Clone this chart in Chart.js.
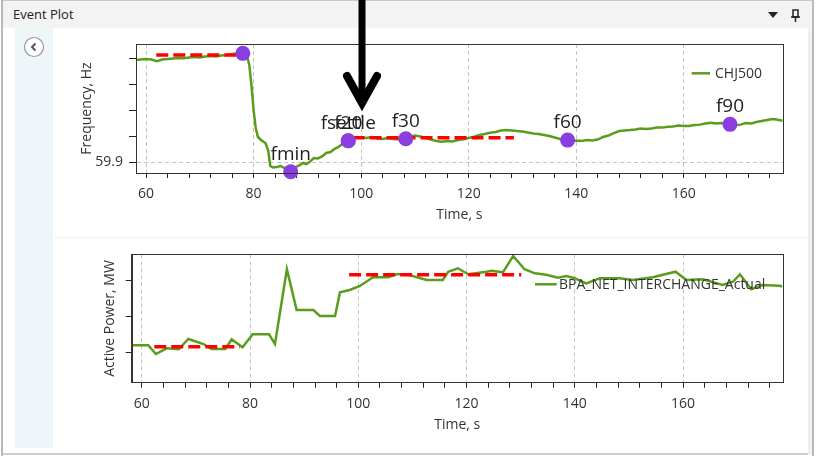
<!DOCTYPE html>
<html>
<head>
<meta charset="utf-8">
<title>Event Plot</title>
<script src="https://cdn.jsdelivr.net/npm/chart.js@4.4.0/dist/chart.umd.min.js"></script>
<style>
  body { margin: 0; width: 817px; height: 461px; background: #fff; position: relative; overflow: hidden; font-family: "Open Sans", sans-serif; }
  .abs { position: absolute; }
  #leftEdge { left: 1px; top: 0; width: 2px; height: 456px; background: #b9b9b9; }
  #rightEdge { left: 812px; top: 0; width: 2px; height: 456px; background: #b9b9b9; }
  #titleBar { left: 3px; top: 0; width: 809px; height: 28px; background: #f3f3f3; border-top: 1px solid #c8c8c8; box-sizing: border-box; }
  #titleText { left: 13px; top: 5px; font-size: 13px; color: #222; }
  #panel { left: 3px; top: 28px; width: 805px; height: 425px; background: #fff; border-bottom: 2px solid #cfcfcf; }
  #rightBand { left: 808px; top: 28px; width: 4px; height: 427px; background: #f0f0f0; }
  #sideStrip { left: 15px; top: 28px; width: 38px; height: 420px; background: #eef6fa; }
  #sep { left: 54px; top: 237px; width: 753px; height: 1px; background: #f0f0f0; }
  canvas { position: absolute; }
  #freqPlot { left: 54px; top: 28px; }
  #powerPlot { left: 54px; top: 238px; }
  #overlay { left: 0; top: 0; }
</style>
</head>
<body>
<div class="abs" id="leftEdge"></div>
<div class="abs" id="rightEdge"></div>
<div class="abs" id="titleBar"></div>
<div class="abs" id="titleText">Event Plot</div>
<div class="abs" id="panel"></div>
<div class="abs" id="rightBand"></div>
<div class="abs" id="sideStrip"></div>
<div class="abs" id="sep"></div>
<canvas id="freqPlot" width="753" height="209"></canvas>
<canvas id="powerPlot" width="753" height="217"></canvas>
<svg class="abs" id="overlay" width="817" height="461">
  <!-- collapse button -->
  <circle cx="34" cy="47" r="9.5" fill="#fff" stroke="#9a9a9a" stroke-width="1.2"/>
  <polyline points="35.5,43.5 32,47 35.5,50.5" fill="none" stroke="#555" stroke-width="2"/>
  <!-- title bar icons -->
  <polygon points="768,12 778,12 773,18" fill="#222"/>
  <rect x="793" y="10" width="5" height="7" fill="none" stroke="#222" stroke-width="1.5"/>
  <line x1="791" y1="17" x2="800" y2="17" stroke="#222" stroke-width="1.5"/>
  <line x1="795.5" y1="17" x2="795.5" y2="22" stroke="#222" stroke-width="1.5"/>
  <!-- big arrow -->
  <line x1="362" y1="0" x2="362" y2="100" stroke="#000" stroke-width="7"/>
  <polyline points="347,76 362,103 377,76" fill="none" stroke="#000" stroke-width="8" stroke-linecap="round" stroke-linejoin="miter"/>
</svg>

<script>
// ---- frequency (top plot) ----
const freqTime = [58.1, 59, 60, 61, 62, 63, 64, 65, 66, 67, 68, 69, 70, 71, 72, 73, 74, 75, 76, 77, 78, 78.7,
  79.2, 79.6, 80.0, 80.4, 80.8, 81.5, 82.2, 82.7, 83.1, 83.6, 84.3, 85, 85.6, 86.3, 86.9, 87.5, 88, 88.6,
  89.2, 89.8, 90.4, 91.2, 92, 92.8, 93.5, 94.3, 95, 95.8, 96.6, 97.6, 98.4, 99.2, 100, 101, 102, 103, 104,
  105, 106, 107, 108.3, 109, 110, 111, 112, 113, 114, 115, 116, 117, 118, 119, 120, 121, 122, 123, 124,
  125, 126, 127, 128, 129, 130, 131, 132, 133, 134, 135, 136, 137, 138.4, 139, 140, 141, 142, 143, 144,
  145, 146, 147, 148, 149, 150, 151, 152, 153, 154, 155, 156, 157, 158, 159, 160, 161, 162, 163, 164,
  165, 166, 167, 168.6, 169.5, 170.6, 171.5, 172.5, 173.5, 174.5, 175.5, 176.5, 177.2, 178.4];
const freqValue = [59.9787, 59.979, 59.9794, 59.979, 59.9777, 59.979, 59.9794, 59.9798, 59.9802, 59.9801,
  59.9806, 59.981, 59.9807, 59.9813, 59.9817, 59.9814, 59.9821, 59.9825, 59.9833, 59.9837, 59.9838, 59.9833,
  59.9748, 59.9594, 59.9402, 59.9264, 59.9195, 59.9168, 59.9148, 59.9095, 59.8972, 59.896, 59.8964, 59.8972,
  59.896, 59.8948, 59.8946, 59.8956, 59.8968, 59.8979, 59.8995, 59.8987, 59.9002, 59.9033, 59.903, 59.9048,
  59.9072, 59.9079, 59.9102, 59.9118, 59.9145, 59.9166, 59.9191, 59.9195, 59.9191, 59.9187, 59.9195, 59.9183,
  59.9179, 59.9187, 59.9179, 59.9175, 59.9181, 59.9195, 59.9206, 59.9198, 59.9187, 59.9175, 59.9164, 59.9158,
  59.9164, 59.916, 59.9171, 59.9177, 59.9187, 59.9198, 59.921, 59.9218, 59.9228, 59.9233, 59.9245, 59.9248,
  59.9245, 59.9241, 59.9237, 59.923, 59.9222, 59.9218, 59.921, 59.9202, 59.9191, 59.9179, 59.9171, 59.9164,
  59.9168, 59.9164, 59.9171, 59.9168, 59.9175, 59.9195, 59.9206, 59.9225, 59.9241, 59.9245, 59.9248, 59.9252,
  59.926, 59.9256, 59.9261, 59.9268, 59.9267, 59.9274, 59.9275, 59.9283, 59.9279, 59.9279, 59.9287, 59.929,
  59.9298, 59.9305, 59.9298, 59.9302, 59.9292, 59.9287, 59.929, 59.9302, 59.9298, 59.931, 59.9318, 59.9325,
  59.9333, 59.9329, 59.932];

// event markers
const markerTime = [78.0, 86.9, 97.6, 97.6, 108.3, 138.4, 168.6];
const markerValue = [59.9838, 59.8928, 59.9166, 59.9166, 59.9181, 59.9171, 59.9292];
const markerLabel = ["", "fmin", "fsettle", "f20", "f30", "f60", "f90"];

// red dashed levels (pre-event and settling)
const freqPreTime = [61.9, 76.8];
const freqPreValue = [59.9825, 59.9825];
const freqPostTime = [98.4, 128.4];
const freqPostValue = [59.9189, 59.9189];

const freqTicks = [59.9, 59.92, 59.94, 59.96, 59.98];

// ---- active power (bottom plot) ----
const powerTime = [58.15, 61.2, 62.6, 64.6, 66.8, 68.6, 71.4, 72.9, 75.4, 76.6, 78.6, 80.5, 83.5, 84.6,
  86.8, 88.6, 91.7, 92.9, 95.7, 96.6, 98.4, 100.3, 102.7, 105.5, 107, 108.9, 112.6, 115.6, 116.6, 118.4,
  120.3, 123.7, 124.6, 126.7, 128.6, 130.7, 132.6, 134.7, 136.9, 138.4, 140, 142.1, 144.6, 148.2, 150.7,
  154.4, 158.6, 160.6, 163.6, 167.3, 169.2, 170.5, 172.6, 174.7, 177.8, 178.3];
const powerValue = [4109.3, 4109.3, 4097.2, 4105.1, 4103.8, 4118.1, 4111.1, 4104.2, 4104.2, 4117.6, 4106.5,
  4124.6, 4124.6, 4111.1, 4214.9, 4158.3, 4158.3, 4150, 4150, 4182.9, 4186.1, 4191.7, 4203.8, 4203.8,
  4207.9, 4207.9, 4200, 4200, 4211.5, 4216.3, 4207.9, 4211.5, 4212.9, 4210.7, 4233.3, 4214.9, 4209.3,
  4207.4, 4203.2, 4205.6, 4202.4, 4195.4, 4202.4, 4202.4, 4200, 4203.8, 4211.5, 4200, 4201, 4193.1,
  4197.6, 4207.9, 4187.1, 4193.1, 4192.1, 4191];
const powerPreTime = [62.3, 78.1];
const powerPreValue = [4107.4, 4107.4];
const powerPostTime = [98.3, 130.1];
const powerPostValue = [4207.4, 4207.4];
const powerTicks = [4100, 4150, 4200];

// time axis
const timeMajor = [60, 80, 100, 120, 140, 160];
const timeMinorStep = 4;

const lineGreen = "#5a9c1c";
const levelRed = "#ff0000";
const markerPurple = "#8b3ee0";
const fontFamily = "'Open Sans', sans-serif";

function xy(xs, ys) {
  return xs.map(function (x, i) { return { x: x, y: ys[i] }; });
}

function timeTicks() {
  let out = [];
  for (let t = 60; t <= 178; t += timeMinorStep) out.push(t);
  return out;
}

// box round the plot area
const plotFrame = {
  id: "plotFrame",
  afterDraw(chart) {
    const a = chart.chartArea, ctx = chart.ctx;
    ctx.save();
    ctx.strokeStyle = "#333";
    ctx.lineWidth = 1;
    ctx.strokeRect(Math.round(a.left) + 0.5, Math.round(a.top) + 0.5,
      Math.round(a.right - a.left), Math.round(a.bottom - a.top));
    ctx.restore();
  },
};

// labels above the event markers
const markerText = {
  id: "markerText",
  afterDatasetsDraw(chart) {
    const ctx = chart.ctx;
    chart.data.datasets.forEach(function (ds, i) {
      if (!ds.pointLabels) return;
      const meta = chart.getDatasetMeta(i);
      ctx.save();
      ctx.font = "19px " + fontFamily;
      ctx.fillStyle = "#222";
      ctx.textAlign = "center";
      ctx.textBaseline = "alphabetic";
      meta.data.forEach(function (pt, j) {
        if (ds.pointLabels[j]) ctx.fillText(ds.pointLabels[j], pt.x, pt.y - 12);
      });
      ctx.restore();
    });
  },
};

// legend drawn inside the plot, top right
const insideLegend = {
  id: "insideLegend",
  afterDraw(chart, args, opts) {
    const a = chart.chartArea, ctx = chart.ctx;
    const ds = chart.data.datasets[chart.data.datasets.length - 1];
    const y = a.top + opts.dy;
    ctx.save();
    ctx.strokeStyle = ds.borderColor;
    ctx.lineWidth = 2.5;
    ctx.beginPath();
    ctx.moveTo(a.right - opts.lineFrom, y);
    ctx.lineTo(a.right - opts.lineTo, y);
    ctx.stroke();
    ctx.font = "14px " + fontFamily;
    ctx.fillStyle = "#333";
    ctx.textBaseline = "middle";
    ctx.fillText(ds.label, a.right - opts.textAt, y + 1);
    ctx.restore();
  },
};

function timeAxis(height, titlePad) {
  return {
    type: "linear",
    min: 58.13,
    max: 178.4,
    afterBuildTicks: function (scale) {
      scale.ticks = timeTicks().map(function (v) { return { value: v }; });
    },
    afterFit: function (scale) { scale.height = height; },
    ticks: {
      autoSkip: false,
      maxRotation: 0,
      padding: 8,
      color: "#333",
      font: { family: fontFamily, size: 14 },
      callback: function (v) { return timeMajor.includes(v) ? String(v) : ""; },
    },
    grid: {
      color: function (c) { return c.tick && timeMajor.includes(c.tick.value) ? "#c4c4c4" : "rgba(0,0,0,0)"; },
      tickColor: "#222",
      tickLength: 5,
    },
    border: { color: "#333", dash: [4, 3] },
    title: {
      display: true,
      text: "Time, s",
      color: "#333",
      font: { family: fontFamily, size: 14 },
      padding: { top: 0, bottom: titlePad },
    },
  };
}

function frequencyPlot() {
  const data = {
    datasets: [
      {
        label: "events",
        type: "scatter",
        data: xy(markerTime, markerValue),
        pointLabels: markerLabel,
        pointRadius: 7.5,
        pointBackgroundColor: markerPurple,
        pointBorderWidth: 0,
        clip: false,
      },
      {
        label: "pre",
        data: xy(freqPreTime, freqPreValue),
        borderColor: levelRed,
        borderWidth: 3.5,
        borderDash: [12, 5],
        pointRadius: 0,
      },
      {
        label: "post",
        data: xy(freqPostTime, freqPostValue),
        borderColor: levelRed,
        borderWidth: 3.5,
        borderDash: [12, 5],
        pointRadius: 0,
      },
      {
        label: "CHJ500",
        data: xy(freqTime, freqValue),
        borderColor: lineGreen,
        borderWidth: 2.5,
        pointRadius: 0,
        tension: 0,
      },
    ],
  };
  var ctx = document.getElementById("freqPlot");
  var myChart = new Chart(ctx, {
    type: "line",
    data: data,
    plugins: [plotFrame, markerText, insideLegend],
    options: {
      responsive: false,
      animation: false,
      devicePixelRatio: 1,
      layout: { padding: { left: 0, top: 16, right: 24.3, bottom: 0 } },
      plugins: {
        legend: { display: false },
        tooltip: { enabled: false },
        insideLegend: { lineFrom: 91, lineTo: 72.7, textAt: 67.7, dy: 29.3 },
      },
      scales: {
        x: timeAxis(64, 13.6),
        y: {
          min: 59.8918,
          max: 59.991,
          afterBuildTicks: function (scale) {
            scale.ticks = freqTicks.map(function (v) { return { value: v }; });
          },
          afterFit: function (scale) { scale.width = 82; },
          ticks: {
            padding: 6,
            color: "#333",
            font: { family: fontFamily, size: 14 },
            callback: function (v) { return Math.abs(v - 59.9) < 1e-6 ? "59.9" : ""; },
          },
          grid: {
            color: function (c) { return c.tick && Math.abs(c.tick.value - 59.9) < 1e-6 ? "#c4c4c4" : "rgba(0,0,0,0)"; },
            tickColor: "#222",
            tickLength: 7,
          },
          border: { color: "#333", dash: [4, 3] },
          title: {
            display: true,
            text: "Frequency, Hz",
            color: "#333",
            font: { family: fontFamily, size: 14 },
            padding: { top: 24.6, bottom: 0 },
          },
        },
      },
    },
  });
}

function powerPlot() {
  const data = {
    datasets: [
      {
        label: "pre",
        data: xy(powerPreTime, powerPreValue),
        borderColor: levelRed,
        borderWidth: 3.5,
        borderDash: [12, 5],
        pointRadius: 0,
      },
      {
        label: "post",
        data: xy(powerPostTime, powerPostValue),
        borderColor: levelRed,
        borderWidth: 3.5,
        borderDash: [12, 5],
        pointRadius: 0,
      },
      {
        label: "BPA_NET_INTERCHANGE_Actual",
        data: xy(powerTime, powerValue),
        borderColor: lineGreen,
        borderWidth: 2.5,
        pointRadius: 0,
        tension: 0,
      },
    ],
  };
  var ctx = document.getElementById("powerPlot");
  var myChart = new Chart(ctx, {
    type: "line",
    data: data,
    plugins: [plotFrame, insideLegend],
    options: {
      responsive: false,
      animation: false,
      devicePixelRatio: 1,
      layout: { padding: { left: 0, top: 16.3, right: 24.3, bottom: 0 } },
      plugins: {
        legend: { display: false },
        tooltip: { enabled: false },
        insideLegend: { lineFrom: 247.7, lineTo: 226, textAt: 223.7, dy: 30 },
      },
      scales: {
        x: timeAxis(72.3, 21.6),
        y: {
          min: 4057.4,
          max: 4235.7,
          afterBuildTicks: function (scale) {
            scale.ticks = powerTicks.map(function (v) { return { value: v }; });
          },
          afterFit: function (scale) { scale.width = 77.7; },
          ticks: { display: false },
          grid: { color: "rgba(0,0,0,0)", tickColor: "#222", tickLength: 6 },
          border: { color: "#333" },
          title: {
            display: true,
            text: "Active Power, MW",
            color: "#333",
            font: { family: fontFamily, size: 14 },
            padding: { top: 47.6, bottom: 0 },
          },
        },
      },
    },
  });
}

frequencyPlot();
powerPlot();
</script>
</body>
</html>
